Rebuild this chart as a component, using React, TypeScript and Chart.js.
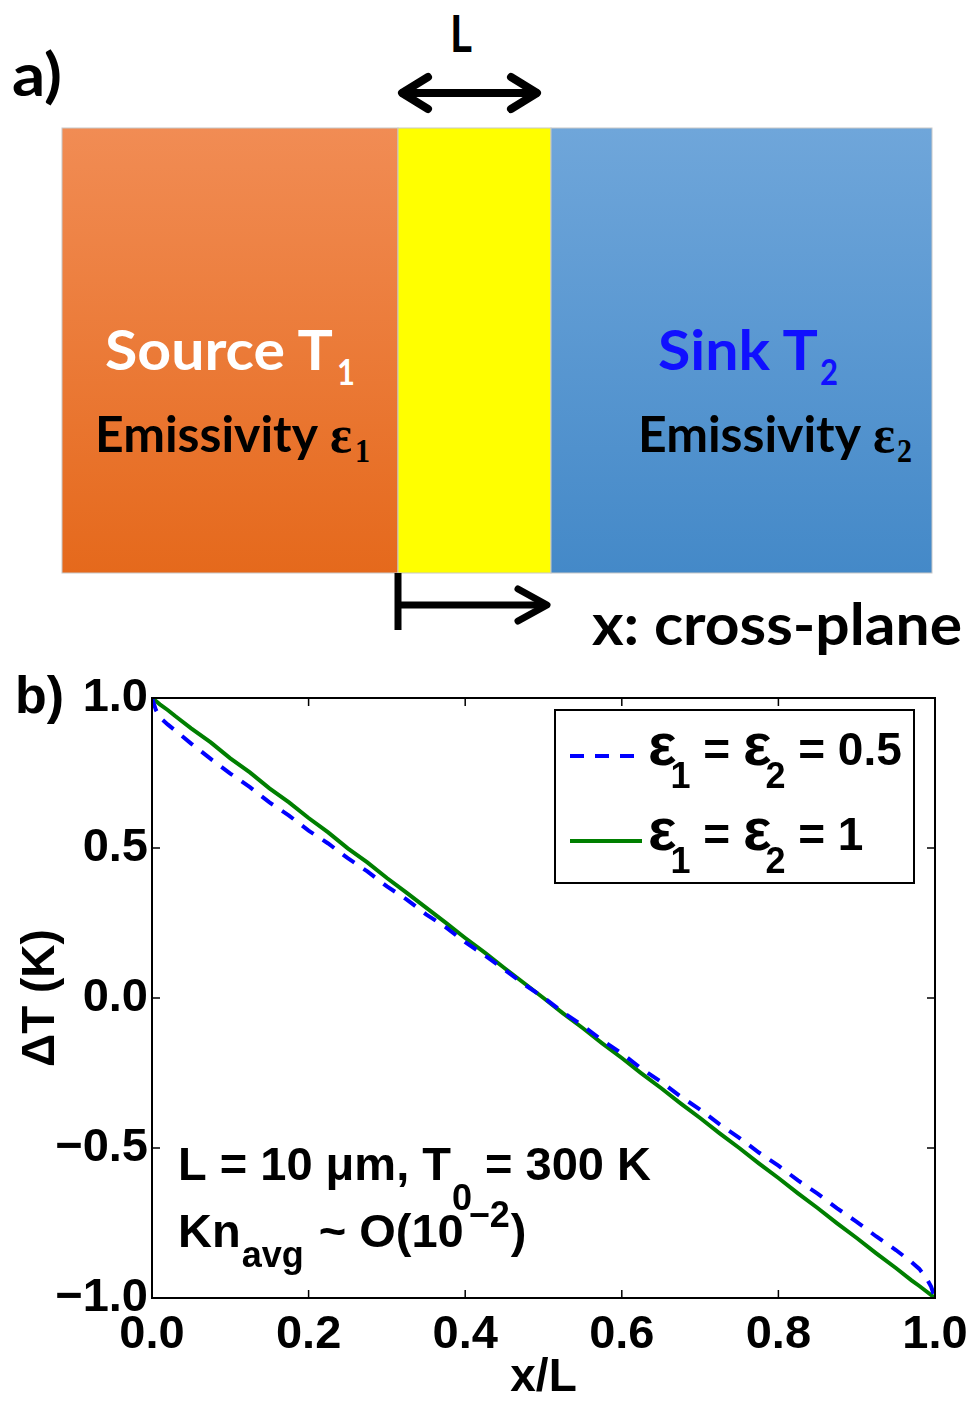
import React, { useEffect, useRef } from 'react';
import { Chart, registerables } from 'chart.js';
Chart.register(...registerables);

// ---- data ----
const X_VALUES = [0, 0.005, 0.01, 0.02, 0.03, 0.05, 0.075, 0.1, 0.125, 0.15, 0.175, 0.2, 0.225, 0.25, 0.275, 0.3, 0.325, 0.35, 0.375, 0.4, 0.425, 0.45, 0.475, 0.5, 0.525, 0.55, 0.575, 0.6, 0.625, 0.65, 0.675, 0.7, 0.725, 0.75, 0.775, 0.8, 0.825, 0.85, 0.875, 0.9, 0.925, 0.95, 0.97, 0.98, 0.99, 0.995, 1.0];
const DT_EPS_HALF = [1.0, 0.96, 0.935, 0.912, 0.891, 0.848, 0.797, 0.748, 0.703, 0.652, 0.608, 0.558, 0.515, 0.466, 0.422, 0.372, 0.329, 0.279, 0.236, 0.186, 0.142, 0.095, 0.046, 0.002, -0.048, -0.092, -0.141, -0.185, -0.235, -0.279, -0.328, -0.372, -0.421, -0.466, -0.515, -0.559, -0.608, -0.652, -0.701, -0.746, -0.795, -0.84, -0.88, -0.903, -0.938, -0.962, -1.0];
const DT_EPS_ONE = [1.0, 0.99, 0.979, 0.96, 0.939, 0.899, 0.852, 0.799, 0.752, 0.699, 0.652, 0.6, 0.552, 0.499, 0.452, 0.4, 0.351, 0.301, 0.251, 0.2, 0.151, 0.1, 0.05, 0.0, -0.051, -0.1, -0.151, -0.2, -0.251, -0.3, -0.351, -0.4, -0.451, -0.5, -0.551, -0.6, -0.651, -0.7, -0.751, -0.8, -0.851, -0.9, -0.941, -0.96, -0.98, -0.99, -1.0];
const SERIES_LABELS = ['ε1 = ε2 = 0.5', 'ε1 = ε2 = 1'];
const X_TICK_STEP = 0.2;
const Y_TICK_STEP = 0.5;
const X_TITLE = 'x/L';
const Y_TITLE = 'ΔT (K)';

const SANS = '"Liberation Sans", Arial, Helvetica, sans-serif';
const CAL = 'Lato, "Open Sans", sans-serif';
const SERIF = '"Liberation Serif", "DejaVu Serif", serif';

type Seg = { t: string; size: number; dy?: number; dx?: number; family?: string };

const LEGEND_RICH: Seg[][] = [
  [{ t: 'ε', size: 60 }, { t: '1', size: 36, dy: 23, dx: -6 }, { t: ' = ', size: 46 }, { t: 'ε', size: 60 }, { t: '2', size: 36, dy: 23, dx: -6 }, { t: ' = 0.5', size: 46 }],
  [{ t: 'ε', size: 60 }, { t: '1', size: 36, dy: 23, dx: -6 }, { t: ' = ', size: 46 }, { t: 'ε', size: 60 }, { t: '2', size: 36, dy: 23, dx: -6 }, { t: ' = 1', size: 46 }],
];
const NOTE_RICH: Seg[][] = [
  [{ t: 'L = 10 μm, T', size: 47 }, { t: '0', size: 36, dy: 30, dx: 1 }, { t: ' = 300 K', size: 47 }],
  [{ t: 'Kn', size: 47 }, { t: 'avg', size: 36, dy: 20, dx: 1 }, { t: ' ~ O(10', size: 47, dx: 2 }, { t: '−2', size: 36, dy: -20, dx: 5 }, { t: ')', size: 47, dx: 1 }],
];

function drawRich(ctx: CanvasRenderingContext2D, x: number, y: number, segs: Seg[]) {
  ctx.save();
  ctx.fillStyle = '#000';
  ctx.textBaseline = 'alphabetic';
  ctx.textAlign = 'left';
  let cx = x;
  for (const s of segs) {
    ctx.font = `bold ${s.size}px ${s.family || SANS}`;
    cx += s.dx || 0;
    ctx.fillText(s.t, cx, y + (s.dy || 0));
    cx += ctx.measureText(s.t).width;
  }
  ctx.restore();
}

const framePlugin = {
  id: 'frameTicks',
  afterDatasetsDraw(chart: any) {
    const { ctx, chartArea: a, scales } = chart;
    ctx.save();
    ctx.strokeStyle = '#000';
    ctx.lineWidth = 1.5;
    const tl = 8;
    ctx.beginPath();
    for (const t of scales.x.ticks) {
      const px = scales.x.getPixelForValue(t.value);
      ctx.moveTo(px, a.bottom); ctx.lineTo(px, a.bottom - tl);
      ctx.moveTo(px, a.top); ctx.lineTo(px, a.top + tl);
    }
    for (const t of scales.y.ticks) {
      const py = scales.y.getPixelForValue(t.value);
      ctx.moveTo(a.left, py); ctx.lineTo(a.left + tl, py);
      ctx.moveTo(a.right, py); ctx.lineTo(a.right - tl, py);
    }
    ctx.stroke();
    ctx.lineWidth = 2;
    ctx.strokeRect(a.left, a.top, a.right - a.left, a.bottom - a.top);
    ctx.restore();
  },
  afterDraw(chart: any) {
    const { ctx } = chart;
    ctx.save();
    const bx = 555, by = 50, bw = 359, bh = 173;
    ctx.fillStyle = '#fff';
    ctx.fillRect(bx, by, bw, bh);
    ctx.strokeStyle = '#000';
    ctx.lineWidth = 2;
    ctx.strokeRect(bx, by, bw, bh);
    const rows = [105, 190];
    chart.data.datasets.forEach((ds: any, i: number) => {
      const y = rows[i];
      ctx.save();
      ctx.strokeStyle = ds.borderColor;
      ctx.lineWidth = ds.borderWidth;
      ctx.setLineDash(ds.borderDash || []);
      ctx.beginPath();
      ctx.moveTo(570, y - 9);
      ctx.lineTo(642, y - 9);
      ctx.stroke();
      ctx.restore();
      drawRich(ctx, 648, y, LEGEND_RICH[i]);
    });
    drawRich(ctx, 178, 520, NOTE_RICH[0]);
    drawRich(ctx, 178, 587, NOTE_RICH[1]);
    ctx.restore();
  },
};

function DeltaTChart() {
  const ref = useRef<HTMLCanvasElement | null>(null);
  useEffect(() => {
    if (!ref.current) return;
    const tickFont = { family: SANS, size: 47, weight: 'bold' as const, lineHeight: 1 };
    const chart = new Chart(ref.current, {
      type: 'line',
      data: {
        datasets: [
          {
            label: SERIES_LABELS[0],
            data: X_VALUES.map((x, i) => ({ x, y: DT_EPS_HALF[i] })),
            borderColor: '#0000ff',
            borderWidth: 4,
            borderDash: [14, 11],
            pointRadius: 0,
            tension: 0,
            fill: false,
          },
          {
            label: SERIES_LABELS[1],
            data: X_VALUES.map((x, i) => ({ x, y: DT_EPS_ONE[i] })),
            borderColor: '#007f00',
            borderWidth: 4,
            pointRadius: 0,
            tension: 0,
            fill: false,
          },
        ],
      },
      options: {
        animation: false,
        responsive: false,
        devicePixelRatio: 1,
        layout: { padding: { top: 38, right: 39, left: 0, bottom: 0 } },
        plugins: { legend: { display: false }, tooltip: { enabled: false } },
        scales: {
          x: {
            type: 'linear',
            min: 0,
            max: 1,
            grid: { display: false, drawTicks: false },
            border: { display: false },
            ticks: {
              stepSize: X_TICK_STEP,
              autoSkip: false,
              maxRotation: 0,
              padding: 14,
              color: '#000',
              font: tickFont,
              callback: (v: any) => Number(v).toFixed(1),
            },
            title: { display: true, text: X_TITLE, color: '#000', font: { ...tickFont, size: 46 }, padding: { top: 0, bottom: 0 } },
            afterFit: (s: any) => { s.height = 103; s.paddingLeft = 0; s.paddingRight = 0; },
          },
          y: {
            type: 'linear',
            min: -1,
            max: 1,
            grid: { display: false, drawTicks: false },
            border: { display: false },
            ticks: {
              stepSize: Y_TICK_STEP,
              autoSkip: false,
              padding: 4,
              color: '#000',
              font: tickFont,
              callback: (v: any) => (Number(v) < 0 ? '\u2212' : '') + Math.abs(Number(v)).toFixed(1),
            },
            title: { display: true, text: Y_TITLE, color: '#000', font: { ...tickFont, size: 46 }, padding: { top: 18, bottom: 0 } },
            afterFit: (s: any) => { s.width = 152; s.paddingTop = 0; s.paddingBottom = 0; },
          },
        },
      },
      plugins: [framePlugin],
    } as any);
    return () => chart.destroy();
  }, []);
  return <canvas ref={ref} width={974} height={741} style={{ position: 'absolute', left: 0, top: 660, width: 974, height: 741 }} />;
}

function Diagram() {
  return (
    <svg width={974} height={1401} style={{ position: 'absolute', left: 0, top: 0 }}>
      <defs>
        <linearGradient id="gOrange" x1="0" y1="0" x2="0" y2="1">
          <stop offset="0" stopColor="#f18c54" />
          <stop offset="1" stopColor="#e5691c" />
        </linearGradient>
        <linearGradient id="gBlue" x1="0" y1="0" x2="0" y2="1">
          <stop offset="0" stopColor="#6fa6da" />
          <stop offset="1" stopColor="#4489c8" />
        </linearGradient>
      </defs>
      <text x={12} y={96} fontFamily={CAL} fontWeight="bold" fontSize={60} textLength={50} lengthAdjust="spacingAndGlyphs">a)</text>
      <text x={450} y={52} fontFamily={CAL} fontWeight="bold" fontSize={52} textLength={22} lengthAdjust="spacingAndGlyphs">L</text>
      <g stroke="#000" strokeWidth={8} strokeLinecap="round" strokeLinejoin="round" fill="none">
        <line x1={403} y1={93} x2={536} y2={93} />
        <polyline points="428,77 402,93 428,109" />
        <polyline points="511,77 537,93 511,109" />
      </g>
      <rect x={62} y={128} width={336} height={445} fill="url(#gOrange)" stroke="#c8c8c8" strokeWidth={1} />
      <rect x={398} y={128} width={153} height={445} fill="#ffff00" stroke="#c8c8c8" strokeWidth={1} />
      <rect x={551} y={128} width={381} height={445} fill="url(#gBlue)" stroke="#c8c8c8" strokeWidth={1} />
      <text x={105} y={370} fill="#fff" fontFamily={CAL} fontWeight="bold" fontSize={56} textLength={228} lengthAdjust="spacingAndGlyphs">Source T</text>
      <text x={337} y={385} fill="#fff" fontFamily={CAL} fontWeight="bold" fontSize={36} textLength={18} lengthAdjust="spacingAndGlyphs">1</text>
      <text x={95} y={452} fill="#000" fontFamily={CAL} fontWeight="bold" fontSize={50} textLength={223} lengthAdjust="spacingAndGlyphs">Emissivity</text>
      <text x={330} y={452} fill="#000" fontFamily={SERIF} fontWeight="bold" fontSize={52} textLength={22} lengthAdjust="spacingAndGlyphs">ε</text>
      <text x={355} y={462} fill="#000" fontFamily={SERIF} fontWeight="bold" fontSize={34} textLength={15} lengthAdjust="spacingAndGlyphs">1</text>
      <text x={658} y={370} fill="#1010ff" fontFamily={CAL} fontWeight="bold" fontSize={56} textLength={160} lengthAdjust="spacingAndGlyphs">Sink T</text>
      <text x={820} y={385} fill="#1010ff" fontFamily={CAL} fontWeight="bold" fontSize={36} textLength={18} lengthAdjust="spacingAndGlyphs">2</text>
      <text x={638} y={452} fill="#000" fontFamily={CAL} fontWeight="bold" fontSize={50} textLength={223} lengthAdjust="spacingAndGlyphs">Emissivity</text>
      <text x={873} y={452} fill="#000" fontFamily={SERIF} fontWeight="bold" fontSize={52} textLength={22} lengthAdjust="spacingAndGlyphs">ε</text>
      <text x={897} y={462} fill="#000" fontFamily={SERIF} fontWeight="bold" fontSize={34} textLength={15} lengthAdjust="spacingAndGlyphs">2</text>
      <g stroke="#000" strokeWidth={7} strokeLinecap="butt" strokeLinejoin="round" fill="none">
        <line x1={398} y1={573} x2={398} y2={630} />
        <line x1={398} y1={605} x2={546} y2={605} />
        <polyline points="518,589 547,605 518,621" strokeLinecap="round" />
      </g>
      <text x={592} y={645} fontFamily={CAL} fontWeight="bold" fontSize={58} textLength={370} lengthAdjust="spacingAndGlyphs">x: cross-plane</text>
      <text x={15} y={713} fontFamily={SANS} fontWeight="bold" fontSize={52}>b)</text>
    </svg>
  );
}

export default function App() {
  return (
    <div style={{ position: 'absolute', left: 0, top: 0, width: 974, height: 1401, background: '#fff', overflow: 'hidden' }}>
      <Diagram />
      <DeltaTChart />
    </div>
  );
}
